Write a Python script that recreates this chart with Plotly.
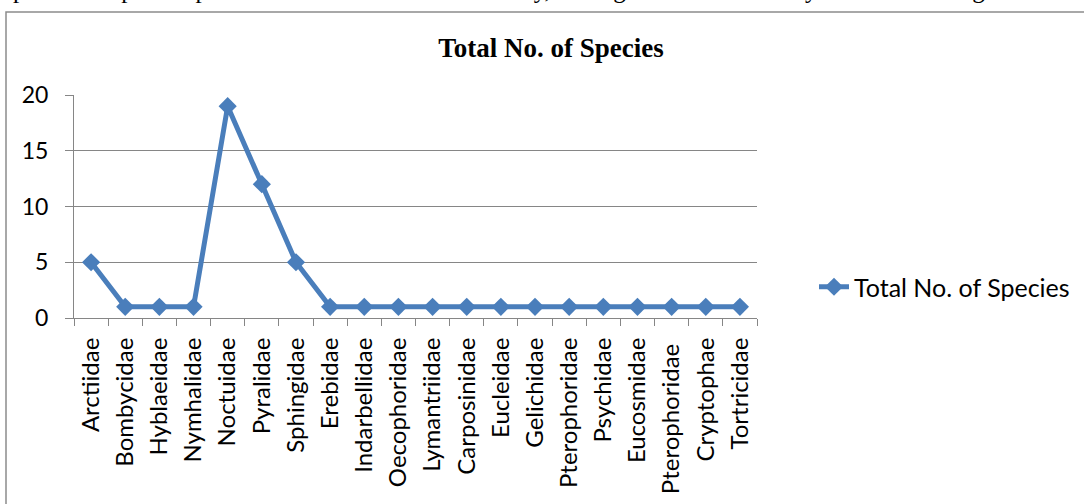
import plotly.graph_objects as go

families = ["Arctiidae", "Bombycidae", "Hyblaeidae", "Nymhalidae", "Noctuidae",
            "Pyralidae", "Sphingidae", "Erebidae", "Indarbellidae", "Oecophoridae",
            "Lymantriidae", "Carposinidae", "Eucleidae", "Gelichidae", "Pterophoridae",
            "Psychidae", "Eucosmidae", "Pterophoridae ", "Cryptophae", "Tortricidae"]
# 'Pterophoridae' appears twice in the original; the second one has a trailing space to keep categories distinct
species = [5, 1, 1, 1, 19, 12, 5, 1, 1, 1, 1, 1, 1, 1, 1, 1, 1, 1, 1, 1]
series_name = "Total No. of Species"
y_ticks = [0, 5, 10, 15, 20]

W, H = 1084, 504
L, R, T, B = 74, 327, 95, 186
pw = W - L - R
ph = H - T - B

def px_x(p):
    return (p - L) / pw

def px_y(p):
    return (H - B - p) / ph

blue = "#4A7EBB"
grey = "#868686"
font_fam = "Lato, Carlito, sans-serif"
x_tick_font = dict(family=font_fam, size=24, color="#000000")
legend_font = dict(family=font_fam, size=25, color="#000000")
y_tick_font = dict(family=font_fam, size=23, color="#000000")

fig = go.Figure()
fig.add_trace(go.Scatter(
    x=families, y=species, name=series_name, mode="lines+markers",
    line=dict(color=blue, width=5),
    marker=dict(symbol="diamond", size=14, color=blue, line=dict(width=0)),
))

fig.update_layout(
    width=W, height=H,
    margin=dict(l=L, r=R, t=T, b=B, autoexpand=False),
    paper_bgcolor="white", plot_bgcolor="white",
    title=dict(text="<b>Total No. of Species</b>",
               font=dict(family="Liberation Serif, Times New Roman, serif", size=27, color="#000000"),
               x=px_x(551), xref="paper", xanchor="center",
               y=1 - 48 / H, yref="container", yanchor="middle"),
    showlegend=True,
    legend=dict(x=px_x(814), xanchor="left", y=px_y(287), yanchor="middle",
                font=legend_font, bgcolor="rgba(0,0,0,0)"),
    xaxis=dict(type="category", range=[-0.5, len(families) - 0.5],
               tickson="boundaries", ticks="outside", ticklen=7, tickcolor=grey,
               showline=True, linecolor=grey, linewidth=1, showgrid=False,
               tickangle=-90, tickfont=x_tick_font, ticklabelstandoff=9),
    yaxis=dict(range=[0, 20], tickvals=y_ticks, ticks="outside", ticklen=8, tickcolor=grey,
               showline=True, linecolor=grey, linewidth=1,
               showgrid=True, gridcolor=grey, gridwidth=1, zeroline=False,
               tickfont=y_tick_font, ticklabelstandoff=12),
    shapes=[dict(type="rect", xref="paper", yref="paper",
                 x0=px_x(6), x1=px_x(W + 20), y0=px_y(H + 20), y1=px_y(12),
                 line=dict(color="#8c8c8c", width=1.5), fillcolor="rgba(0,0,0,0)", layer="below")],
    annotations=[dict(text="ip between prime species of moths and moth diversity, the highest moth diversity recorded in August",
                      xref="paper", yref="paper", x=px_x(4), y=px_y(5), xanchor="left", yanchor="bottom",
                      showarrow=False,
                      font=dict(family="Liberation Serif, Times New Roman, serif", size=25, color="#000000"))],
)

fig.write_html("out.html", config={"displayModeBar": False},
               post_script="document.body.style.margin='0';")
